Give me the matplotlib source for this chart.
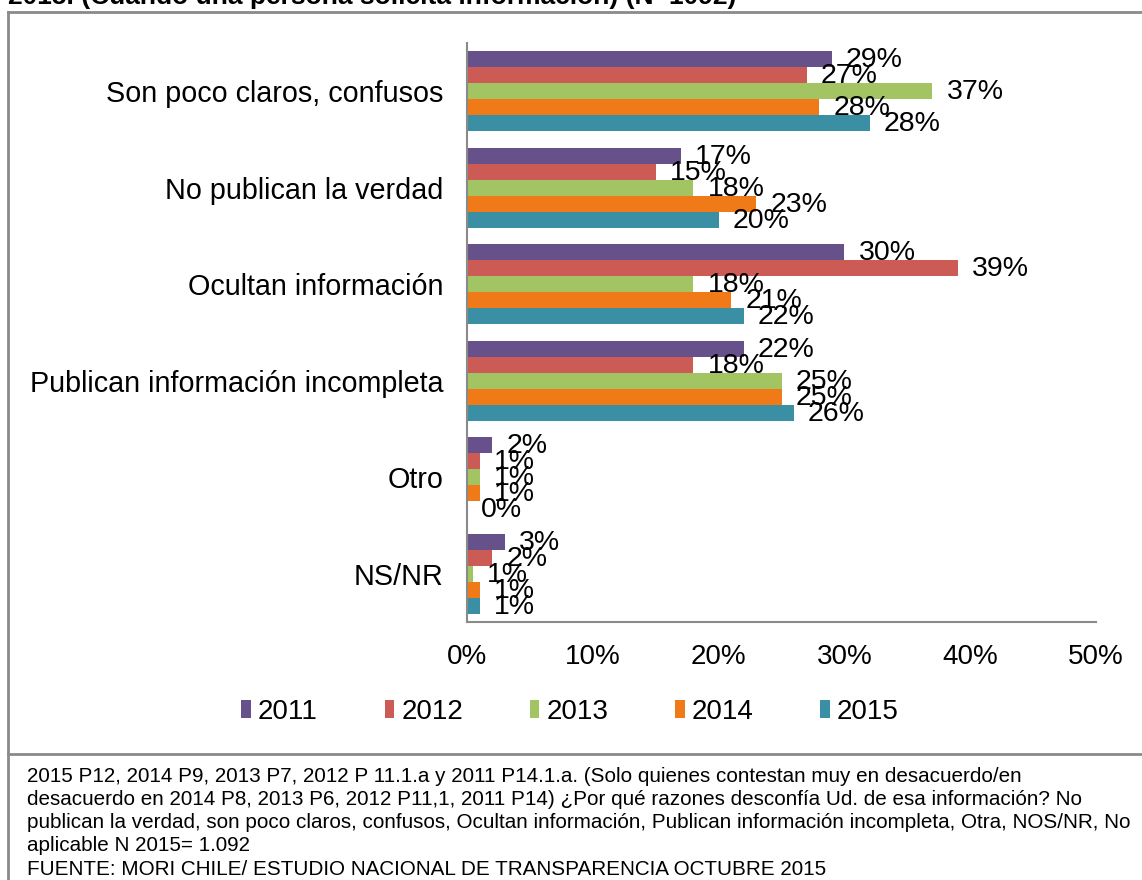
import matplotlib
matplotlib.use('Agg')
import matplotlib.pyplot as plt
import numpy as np
from matplotlib.patches import Patch
from matplotlib.lines import Line2D

plt.rcParams['font.family'] = ['Liberation Sans', 'DejaVu Sans']

categories = ['Son poco claros, confusos', 'No publican la verdad', 'Ocultan información',
              'Publican información incompleta', 'Otro', 'NS/NR']
years = ['2011', '2012', '2013', '2014', '2015']

# bar lengths as drawn (%)
v2011 = [29, 17, 30, 22, 2, 3]
v2012 = [27, 15, 39, 18, 1, 2]
v2013 = [37, 18, 18, 25, 1, 0.5]
v2014 = [28, 23, 21, 25, 1, 1]
v2015 = [32, 20, 22, 26, 0, 1]

# data labels as printed
l2011 = ['29%', '17%', '30%', '22%', '2%', '3%']
l2012 = ['27%', '15%', '39%', '18%', '1%', '2%']
l2013 = ['37%', '18%', '18%', '25%', '1%', '1%']
l2014 = ['28%', '23%', '21%', '25%', '1%', '1%']
l2015 = ['28%', '20%', '22%', '26%', '0%', '1%']

xticks = [0, 10, 20, 30, 40, 50]
xticklabels = ['0%', '10%', '20%', '30%', '40%', '50%']

colors = ['#67518A', '#CC5A55', '#A3C463', '#F07A18', '#3A8FA5']

title = '2015. (Cuando una persona solicita información) (N=1092)'
footnote = ['2015 P12, 2014 P9, 2013 P7, 2012 P 11.1.a y 2011 P14.1.a. (Solo quienes contestan muy en desacuerdo/en',
            'desacuerdo en 2014 P8, 2013 P6, 2012 P11,1, 2011 P14) ¿Por qué razones desconfía Ud. de esa información? No',
            'publican la verdad, son poco claros, confusos, Ocultan información, Publican información incompleta, Otra, NOS/NR, No',
            'aplicable N 2015= 1.092',
            'FUENTE: MORI CHILE/ ESTUDIO NACIONAL DE TRANSPARENCIA OCTUBRE 2015']

W, H = 1142, 880
fig = plt.figure(figsize=(W / 100, H / 100), dpi=100)
fig.patch.set_facecolor('white')

ax = fig.add_axes([467 / W, (H - 622) / H, (1096 - 467) / W, (622 - 43) / H])

values = [v2011, v2012, v2013, v2014, v2015]
labels = [l2011, l2012, l2013, l2014, l2015]
n = len(years)
bh = 1.0 / 6.0
y = np.arange(len(categories))
for j in range(n):
    pos = y + (j - 2) * bh
    bars = ax.barh(pos, values[j], height=bh, color=colors[j], edgecolor='none')
    for k, b in enumerate(bars):
        ax.annotate(labels[j][k], xy=(b.get_width(), pos[k]), xytext=(14, -1),
                    textcoords='offset pixels', va='center', ha='left', fontsize=20.5, color='black')

ax.set_ylim(len(categories) - 0.5, -0.5)
ax.set_xlim(0, 50)
ax.set_xticks(xticks)
ax.set_xticklabels(xticklabels, fontsize=20)
ax.set_yticks(y)
ax.set_yticklabels(categories, fontsize=20.7)
ax.tick_params(axis='both', length=0)
ax.tick_params(axis='x', pad=16)
ax.tick_params(axis='y', pad=17)
for s in ['top', 'right']:
    ax.spines[s].set_visible(False)
for s in ['left', 'bottom']:
    ax.spines[s].set_color('#8a8a8a')
    ax.spines[s].set_linewidth(1.5)

handles = [Patch(facecolor=c, edgecolor='none') for c in colors]
fig.legend(handles, years, loc='center', bbox_to_anchor=(570 / W, (H - 712) / H), ncol=5,
           frameon=False, fontsize=20, handlelength=0.35, handleheight=0.6,
           handletextpad=0.25, columnspacing=2.4, borderpad=0)

# frames
def fx(px):
    return px / W

def fy(py):
    return (H - py) / H

fig.add_artist(Line2D([fx(8), 1.0], [fy(12), fy(12)], color='#8a8a8a', lw=2))
fig.add_artist(Line2D([fx(8), fx(8)], [fy(12), 0.0], color='#8a8a8a', lw=2))
fig.add_artist(Line2D([fx(8), 1.0], [fy(754), fy(754)], color='#8a8a8a', lw=2))

fig.text(fx(8), fy(4), title, fontsize=19, fontweight='bold', va='baseline', ha='left')

for i, line in enumerate(footnote):
    fig.text(fx(27), fy(776 + i * 23.3), line, fontsize=14.9, va='center', ha='left')

fig.savefig('out.png', dpi=100)
